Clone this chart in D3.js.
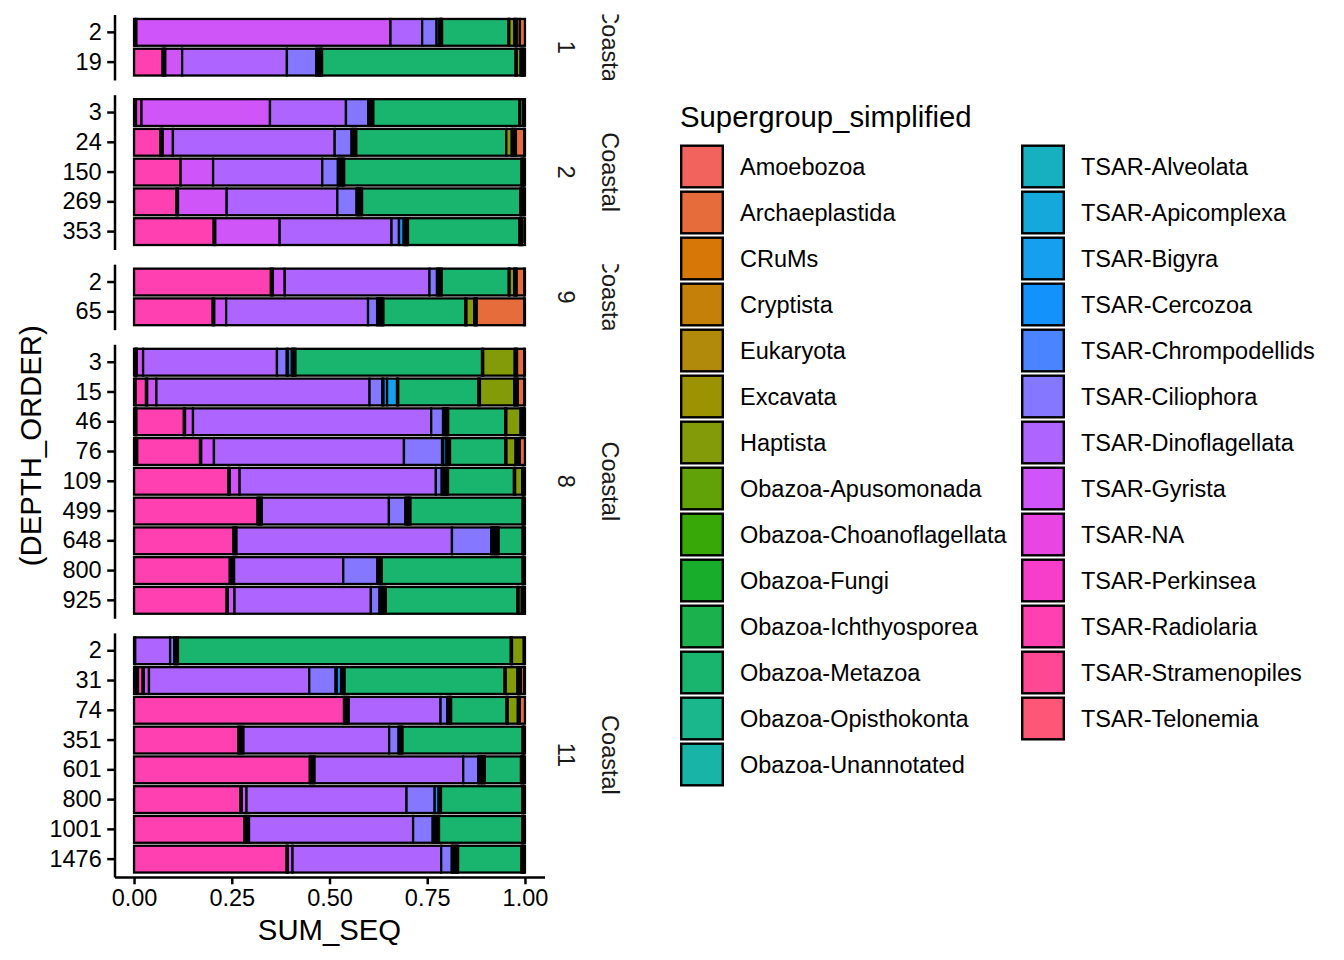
<!DOCTYPE html>
<html>
<head>
<meta charset="utf-8">
<script src="https://cdn.jsdelivr.net/npm/d3@7"></script>
<style>
  body { margin: 0; background: #fff; }
  svg { display: block; font-family: "Liberation Sans", Arial, Helvetica, sans-serif; }
</style>
</head>
<body>
<svg id="chart" width="1344" height="960"></svg>
<script>
// legend order (ggplot stacks the first level at the right end of each bar)
const categories = [
  "Amoebozoa", "Archaeplastida", "CRuMs", "Cryptista", "Eukaryota", "Excavata",
  "Haptista", "Obazoa-Apusomonada", "Obazoa-Choanoflagellata", "Obazoa-Fungi",
  "Obazoa-Ichthyosporea", "Obazoa-Metazoa", "Obazoa-Opisthokonta", "Obazoa-Unannotated",
  "TSAR-Alveolata", "TSAR-Apicomplexa", "TSAR-Bigyra", "TSAR-Cercozoa",
  "TSAR-Chrompodellids", "TSAR-Ciliophora", "TSAR-Dinoflagellata", "TSAR-Gyrista",
  "TSAR-NA", "TSAR-Perkinsea", "TSAR-Radiolaria", "TSAR-Stramenopiles", "TSAR-Telonemia",
];

const palette = [
  "#F2635D", "#E66C3B", "#D77708", "#C5800A", "#B1890B", "#9C9302",
  "#839B08", "#61A208", "#37A807", "#19AD2C", "#1BB14D", "#19B46E",
  "#1AB68C", "#19B4A8", "#17B0C1", "#15A8DA", "#169FEE", "#1392FC",
  "#4A84FF", "#8577FF", "#AE65FF", "#D055F8", "#E845E3", "#F63ECB",
  "#FE40B1", "#FF4894", "#FD5677",
];

const xTicks = [0, 0.25, 0.5, 0.75, 1];

// read sequence shares per sample (percent), one array per station
const station1 = [
  { depth: "2", "TSAR-Radiolaria": 0.3, "TSAR-NA": 0.3, "TSAR-Gyrista": 65.0, "TSAR-Dinoflagellata": 8.1,
    "TSAR-Ciliophora": 3.7, "TSAR-Bigyra": 0.7, "TSAR-Alveolata": 0.3, "Obazoa-Unannotated": 0.2,
    "Obazoa-Opisthokonta": 0.2, "Obazoa-Metazoa": 17.0, "Obazoa-Ichthyosporea": 0.2, "Haptista": 1.3,
    "Excavata": 0.3, "Eukaryota": 0.3, "Cryptista": 0.8, "Archaeplastida": 1.3 },
  { depth: "19", "TSAR-Radiolaria": 7.3, "TSAR-Perkinsea": 0.35, "TSAR-NA": 0.35, "TSAR-Gyrista": 4.3,
    "TSAR-Dinoflagellata": 26.8, "TSAR-Ciliophora": 7.5, "TSAR-Cercozoa": 0.5, "TSAR-Bigyra": 0.4,
    "TSAR-Alveolata": 0.3, "Obazoa-Opisthokonta": 0.3, "Obazoa-Metazoa": 49.5, "Obazoa-Ichthyosporea": 0.3,
    "Haptista": 1.0, "Eukaryota": 0.3, "Cryptista": 0.3, "Archaeplastida": 0.3, "Amoebozoa": 0.2 },
];

const station2 = [
  { depth: "3", "TSAR-Radiolaria": 0.3, "TSAR-Perkinsea": 0.2, "TSAR-NA": 1.4, "TSAR-Gyrista": 32.8,
    "TSAR-Dinoflagellata": 19.4, "TSAR-Ciliophora": 5.7, "TSAR-Cercozoa": 0.4, "TSAR-Alveolata": 0.4,
    "Obazoa-Opisthokonta": 0.5, "Obazoa-Metazoa": 37.3, "Obazoa-Ichthyosporea": 0.2, "Haptista": 0.8,
    "Eukaryota": 0.2, "Amoebozoa": 0.2 },
  { depth: "24", "TSAR-Radiolaria": 6.7, "TSAR-Perkinsea": 0.3, "TSAR-NA": 0.3, "TSAR-Gyrista": 2.6,
    "TSAR-Dinoflagellata": 41.2, "TSAR-Ciliophora": 4.3, "TSAR-Cercozoa": 0.4, "TSAR-Alveolata": 0.4,
    "Obazoa-Opisthokonta": 0.4, "Obazoa-Metazoa": 38.2, "Haptista": 1.4, "Excavata": 0.35,
    "Eukaryota": 0.35, "Cryptista": 0.35, "Archaeplastida": 2.1, "Amoebozoa": 0.2 },
  { depth: "150", "TSAR-Radiolaria": 11.9, "TSAR-Gyrista": 8.3, "TSAR-Dinoflagellata": 27.9,
    "TSAR-Ciliophora": 4.0, "TSAR-Chrompodellids": 0.3, "TSAR-Cercozoa": 0.4, "TSAR-Bigyra": 0.3,
    "TSAR-Alveolata": 0.3, "Obazoa-Opisthokonta": 0.3, "Obazoa-Metazoa": 45.3, "Obazoa-Ichthyosporea": 0.2,
    "Haptista": 0.3, "Archaeplastida": 0.2, "Amoebozoa": 0.2 },
  { depth: "269", "TSAR-Radiolaria": 10.8, "TSAR-Perkinsea": 0.4, "TSAR-Gyrista": 12.4,
    "TSAR-Dinoflagellata": 28.2, "TSAR-Ciliophora": 4.9, "TSAR-Cercozoa": 0.4, "TSAR-Bigyra": 0.3,
    "TSAR-Alveolata": 0.3, "Obazoa-Opisthokonta": 0.4, "Obazoa-Metazoa": 40.3, "Obazoa-Ichthyosporea": 0.2,
    "Haptista": 0.3, "Eukaryota": 0.5, "Amoebozoa": 0.2 },
  { depth: "353", "TSAR-Radiolaria": 20.3, "TSAR-Perkinsea": 0.4, "TSAR-Gyrista": 16.4,
    "TSAR-Dinoflagellata": 28.5, "TSAR-Ciliophora": 1.9, "TSAR-Cercozoa": 1.2, "TSAR-Bigyra": 0.3,
    "TSAR-Alveolata": 0.3, "Obazoa-Unannotated": 0.2, "Obazoa-Opisthokonta": 0.3, "Obazoa-Metazoa": 28.4,
    "Obazoa-Ichthyosporea": 0.2, "Haptista": 0.3, "Eukaryota": 0.3, "Archaeplastida": 0.6 },
];

const station9 = [
  { depth: "2", "TSAR-Radiolaria": 34.7, "TSAR-Perkinsea": 0.5, "TSAR-Gyrista": 3.0,
    "TSAR-Dinoflagellata": 36.7, "TSAR-Ciliophora": 1.9, "TSAR-Cercozoa": 0.4, "TSAR-Alveolata": 0.4,
    "Obazoa-Opisthokonta": 0.4, "Obazoa-Metazoa": 17.0, "Obazoa-Ichthyosporea": 0.2, "Haptista": 1.2,
    "Excavata": 0.3, "Eukaryota": 0.3, "Archaeplastida": 1.9, "Amoebozoa": 0.2 },
  { depth: "65", "TSAR-Radiolaria": 19.9, "TSAR-Perkinsea": 0.4, "TSAR-Gyrista": 3.0,
    "TSAR-Dinoflagellata": 35.9, "TSAR-Ciliophora": 2.3, "TSAR-Chrompodellids": 0.3, "TSAR-Cercozoa": 0.4,
    "TSAR-Bigyra": 0.3, "TSAR-Alveolata": 0.3, "Obazoa-Opisthokonta": 0.3, "Obazoa-Metazoa": 20.7,
    "Obazoa-Ichthyosporea": 0.3, "Haptista": 2.0, "Excavata": 0.3, "Eukaryota": 0.3,
    "Archaeplastida": 12.0, "Amoebozoa": 0.2 },
];

const station8 = [
  { depth: "3", "TSAR-Radiolaria": 0.3, "TSAR-Perkinsea": 0.2, "TSAR-NA": 0.2, "TSAR-Gyrista": 1.6,
    "TSAR-Dinoflagellata": 34.0, "TSAR-Ciliophora": 2.5, "TSAR-Chrompodellids": 0.3, "TSAR-Cercozoa": 1.0,
    "TSAR-Bigyra": 0.3, "TSAR-Alveolata": 0.3, "Obazoa-Opisthokonta": 0.3, "Obazoa-Metazoa": 47.4,
    "Obazoa-Ichthyosporea": 0.3, "Haptista": 8.0, "Excavata": 0.3, "Eukaryota": 0.3,
    "Archaeplastida": 1.8, "Amoebozoa": 0.2 },
  { depth: "15", "TSAR-Stramenopiles": 0.4, "TSAR-Radiolaria": 2.6, "TSAR-Perkinsea": 0.3,
    "TSAR-Gyrista": 2.3, "TSAR-Dinoflagellata": 53.5, "TSAR-Ciliophora": 3.2, "TSAR-Chrompodellids": 0.3,
    "TSAR-Cercozoa": 0.9, "TSAR-Bigyra": 2.5, "TSAR-Alveolata": 0.3,
    "Obazoa-Metazoa": 20.1, "Obazoa-Ichthyosporea": 0.4, "Haptista": 8.6, "Excavata": 0.3,
    "Eukaryota": 0.3, "Cryptista": 0.3, "Archaeplastida": 1.6, "Amoebozoa": 0.2 },
  { depth: "46", "TSAR-Telonemia": 0.3, "TSAR-Stramenopiles": 0.3, "TSAR-Radiolaria": 12.0,
    "TSAR-Perkinsea": 0.3, "TSAR-Gyrista": 2.0, "TSAR-Dinoflagellata": 60.2, "TSAR-Ciliophora": 3.0,
    "TSAR-Cercozoa": 0.4, "TSAR-Bigyra": 0.3, "TSAR-Alveolata": 0.3, "Obazoa-Opisthokonta": 0.3,
    "Obazoa-Metazoa": 14.4, "Obazoa-Ichthyosporea": 0.3, "Haptista": 3.6, "Excavata": 0.3,
    "Eukaryota": 0.3, "Archaeplastida": 0.3, "Amoebozoa": 0.2 },
  { depth: "76", "TSAR-Telonemia": 0.4, "TSAR-Stramenopiles": 0.4, "TSAR-Radiolaria": 15.8,
    "TSAR-Perkinsea": 0.3, "TSAR-Gyrista": 3.2, "TSAR-Dinoflagellata": 47.8, "TSAR-Ciliophora": 9.6,
    "TSAR-Chrompodellids": 0.3, "TSAR-Cercozoa": 0.8, "TSAR-Bigyra": 0.3, "TSAR-Alveolata": 0.3,
    "Obazoa-Opisthokonta": 0.3, "Obazoa-Metazoa": 13.9, "Obazoa-Ichthyosporea": 0.3, "Haptista": 2.3,
    "Excavata": 0.35, "Eukaryota": 0.35, "Cryptista": 0.35, "Archaeplastida": 1.3 },
  { depth: "109", "TSAR-Radiolaria": 24.0, "TSAR-Perkinsea": 0.4, "TSAR-Gyrista": 2.5,
    "TSAR-Dinoflagellata": 50.0, "TSAR-Ciliophora": 1.5, "TSAR-Chrompodellids": 0.3, "TSAR-Cercozoa": 0.4,
    "TSAR-Bigyra": 0.3, "TSAR-Alveolata": 0.3, "Obazoa-Opisthokonta": 0.3, "Obazoa-Metazoa": 16.8,
    "Obazoa-Ichthyosporea": 0.3, "Haptista": 1.8, "Excavata": 0.25, "Eukaryota": 0.25, "Amoebozoa": 0.2 },
  { depth: "499", "TSAR-Radiolaria": 31.5, "TSAR-Perkinsea": 0.4, "TSAR-NA": 0.3, "TSAR-Gyrista": 0.4,
    "TSAR-Dinoflagellata": 32.4, "TSAR-Ciliophora": 4.2, "TSAR-Cercozoa": 0.4, "TSAR-Bigyra": 0.3,
    "TSAR-Alveolata": 0.3, "Obazoa-Opisthokonta": 0.3, "Obazoa-Metazoa": 28.6,
    "Obazoa-Ichthyosporea": 0.2, "Haptista": 0.2, "Amoebozoa": 0.2 },
  { depth: "648", "TSAR-Radiolaria": 25.3, "TSAR-Perkinsea": 0.4, "TSAR-Gyrista": 0.4,
    "TSAR-Dinoflagellata": 54.9, "TSAR-Ciliophora": 10.0, "TSAR-Chrompodellids": 0.3, "TSAR-Cercozoa": 0.4,
    "TSAR-Bigyra": 0.3, "TSAR-Alveolata": 0.3, "Obazoa-Unannotated": 0.3, "Obazoa-Opisthokonta": 0.3,
    "Obazoa-Metazoa": 6.1, "Obazoa-Ichthyosporea": 0.2, "Haptista": 0.2, "Amoebozoa": 0.2 },
  { depth: "800", "TSAR-Radiolaria": 24.4, "TSAR-Perkinsea": 0.4, "TSAR-NA": 0.3, "TSAR-Gyrista": 0.4,
    "TSAR-Dinoflagellata": 27.8, "TSAR-Ciliophora": 8.7, "TSAR-Cercozoa": 0.4, "TSAR-Alveolata": 0.4,
    "Obazoa-Opisthokonta": 0.3, "Obazoa-Metazoa": 35.9, "Obazoa-Ichthyosporea": 0.2, "Haptista": 0.2,
    "Amoebozoa": 0.2 },
  { depth: "925", "TSAR-Radiolaria": 23.5, "TSAR-Perkinsea": 0.3, "TSAR-Gyrista": 1.7,
    "TSAR-Dinoflagellata": 34.6, "TSAR-Ciliophora": 2.2, "TSAR-Chrompodellids": 0.3, "TSAR-Cercozoa": 0.4,
    "TSAR-Bigyra": 0.3, "TSAR-Alveolata": 0.3, "Obazoa-Opisthokonta": 0.3, "Obazoa-Metazoa": 33.4,
    "Obazoa-Ichthyosporea": 0.3, "Haptista": 0.8, "Excavata": 0.3, "Eukaryota": 0.3, "Amoebozoa": 0.2 },
];

const station11 = [
  { depth: "2", "TSAR-Gyrista": 0.3, "TSAR-Dinoflagellata": 8.9, "TSAR-Ciliophora": 1.1,
    "TSAR-Cercozoa": 0.3, "TSAR-Alveolata": 0.3, "Obazoa-Opisthokonta": 0.3, "Obazoa-Metazoa": 84.9,
    "Obazoa-Ichthyosporea": 0.3, "Haptista": 3.0, "Amoebozoa": 0.3 },
  { depth: "31", "TSAR-Telonemia": 0.5, "TSAR-Stramenopiles": 0.5, "TSAR-Radiolaria": 1.2,
    "TSAR-Perkinsea": 0.3, "TSAR-Gyrista": 1.3, "TSAR-Dinoflagellata": 40.8,
    "TSAR-Ciliophora": 6.7, "TSAR-Chrompodellids": 0.3, "TSAR-Cercozoa": 1.1, "TSAR-Bigyra": 0.3,
    "TSAR-Alveolata": 0.3, "Obazoa-Opisthokonta": 0.3, "Obazoa-Metazoa": 40.7, "Obazoa-Ichthyosporea": 0.3,
    "Haptista": 3.0, "Excavata": 0.3, "Eukaryota": 0.3, "Cryptista": 0.3, "Archaeplastida": 0.8,
    "Amoebozoa": 0.2 },
  { depth: "74", "TSAR-Radiolaria": 53.5, "TSAR-Perkinsea": 0.4, "TSAR-NA": 0.4, "TSAR-Gyrista": 0.4,
    "TSAR-Dinoflagellata": 23.4, "TSAR-Ciliophora": 1.7, "TSAR-Cercozoa": 0.4, "TSAR-Alveolata": 0.3,
    "Obazoa-Opisthokonta": 0.3, "Obazoa-Metazoa": 14.1, "Obazoa-Ichthyosporea": 0.3, "Haptista": 2.6,
    "Excavata": 0.25, "Eukaryota": 0.25, "Archaeplastida": 1.3 },
  { depth: "351", "TSAR-Radiolaria": 26.5, "TSAR-Perkinsea": 0.4, "TSAR-NA": 0.4, "TSAR-Gyrista": 0.5,
    "TSAR-Dinoflagellata": 37.0, "TSAR-Ciliophora": 2.4, "TSAR-Cercozoa": 0.4, "TSAR-Alveolata": 0.3,
    "Obazoa-Opisthokonta": 0.3, "Obazoa-Metazoa": 30.5, "Obazoa-Ichthyosporea": 0.2, "Haptista": 0.2,
    "Amoebozoa": 0.2 },
  { depth: "601", "TSAR-Radiolaria": 44.7, "TSAR-Perkinsea": 0.4, "TSAR-NA": 0.4, "TSAR-Gyrista": 0.4,
    "TSAR-Dinoflagellata": 37.8, "TSAR-Ciliophora": 3.8, "TSAR-Chrompodellids": 0.3, "TSAR-Cercozoa": 0.4,
    "TSAR-Bigyra": 0.3, "TSAR-Alveolata": 0.3, "Obazoa-Opisthokonta": 0.4, "Obazoa-Metazoa": 9.2,
    "Obazoa-Ichthyosporea": 0.3, "Haptista": 0.3, "Eukaryota": 0.2, "Amoebozoa": 0.2 },
  { depth: "800", "TSAR-Radiolaria": 26.8, "TSAR-Perkinsea": 0.4, "TSAR-Gyrista": 1.2,
    "TSAR-Dinoflagellata": 40.4, "TSAR-Ciliophora": 7.1, "TSAR-Cercozoa": 1.0, "TSAR-Alveolata": 0.3,
    "Obazoa-Opisthokonta": 0.3, "Obazoa-Metazoa": 20.5, "Obazoa-Ichthyosporea": 0.3, "Haptista": 0.2,
    "Amoebozoa": 0.2 },
  { depth: "1001", "TSAR-Radiolaria": 28.1, "TSAR-Perkinsea": 0.4, "TSAR-NA": 0.4, "TSAR-Gyrista": 0.4,
    "TSAR-Dinoflagellata": 41.8, "TSAR-Ciliophora": 5.0, "TSAR-Chrompodellids": 0.3, "TSAR-Cercozoa": 0.4,
    "TSAR-Bigyra": 0.3, "TSAR-Alveolata": 0.3, "Obazoa-Opisthokonta": 0.3, "Obazoa-Metazoa": 21.2,
    "Obazoa-Ichthyosporea": 0.3, "Haptista": 0.2, "Amoebozoa": 0.2 },
  { depth: "1476", "TSAR-Radiolaria": 38.8, "TSAR-Perkinsea": 0.3, "TSAR-Gyrista": 1.2,
    "TSAR-Dinoflagellata": 37.8, "TSAR-Ciliophora": 2.7, "TSAR-Chrompodellids": 0.3, "TSAR-Cercozoa": 0.4,
    "TSAR-Bigyra": 0.3, "TSAR-Alveolata": 0.3, "Obazoa-Opisthokonta": 0.3, "Obazoa-Metazoa": 16.1,
    "Obazoa-Ichthyosporea": 0.3, "Haptista": 0.2, "Eukaryota": 0.2, "Amoebozoa": 0.2 },
];

const panels = [
  { station: "1", type: "Coastal", rows: station1 },
  { station: "2", type: "Coastal", rows: station2 },
  { station: "9", type: "Coastal", rows: station9 },
  { station: "8", type: "Coastal", rows: station8 },
  { station: "11", type: "Coastal", rows: station11 },
];

const svg = d3.select("#chart");

const plotTop = 14.5;
const plotBottom = 877;
const panelGap = 14.7;
const lineW = 2.5;
const fontSm = 23.5;
const fontLg = 29.3;

// discrete scale expansion of 0.6 on both sides -> n + 0.2 steps per panel
const unit = (plotBottom - plotTop - panelGap * (panels.length - 1)) /
  d3.sum(panels, (p) => p.rows.length + 0.2);

const x = d3.scaleLinear().domain([-0.05, 1.05]).range([114.5, 544.5]);
const color = d3.scaleOrdinal(categories, palette);

const stack = d3
  .stack()
  .keys(categories.slice().reverse())
  .value((d, key) => d[key] || 0)
  .offset(d3.stackOffsetExpand);

let panelTop = plotTop;
panels.forEach((p, i) => {
  const h = (p.rows.length + 0.2) * unit;
  const y = d3
    .scaleBand()
    .domain(p.rows.map((d) => d.depth))
    .range([panelTop, panelTop + h])
    .paddingInner(0.1)
    .paddingOuter(0.15);

  const g = svg.append("g");

  // Bars (zero entries are absent samples, not drawn)
  g.selectAll("g.series")
    .data(stack(p.rows))
    .join("g")
    .attr("class", "series")
    .attr("fill", (s) => color(s.key))
    .selectAll("rect")
    .data((s) => s.filter((pt) => pt.data[s.key] > 0))
    .join("rect")
    .attr("x", (pt) => x(pt[0]))
    .attr("y", (pt) => y(pt.data.depth))
    .attr("width", (pt) => x(pt[1]) - x(pt[0]))
    .attr("height", y.bandwidth())
    .attr("stroke", "#000")
    .attr("stroke-width", 2.3);

  // Y axis
  const ya = g
    .append("g")
    .attr("transform", `translate(${x.range()[0]},0)`)
    .call(d3.axisLeft(y).tickSize(7.3).tickSizeOuter(0).tickPadding(5.5));
  ya.select(".domain").attr("stroke-width", lineW);
  ya.selectAll(".tick line").attr("stroke-width", lineW);
  ya.selectAll("text").attr("font-size", fontSm).attr("fill", "#000").attr("font-family", null);

  // Strips (two facet variables, clipped to the panel height)
  const clipId = `strip-clip-${i}`;
  svg.append("clipPath")
    .attr("id", clipId)
    .append("rect")
    .attr("x", 545)
    .attr("y", panelTop)
    .attr("width", 100)
    .attr("height", h);

  const strip = svg.append("g").attr("clip-path", `url(#${clipId})`);
  [[p.station, 566], [p.type, 610]].forEach(([label, cx]) => {
    strip.append("text")
      .attr("transform", `translate(${cx},${panelTop + h / 2}) rotate(90)`)
      .attr("text-anchor", "middle")
      .attr("dy", "0.36em")
      .attr("font-size", fontSm)
      .attr("fill", "#1a1a1a")
      .text(label);
  });

  panelTop += h + panelGap;
});

// X axis (bottom panel only)
const xa = svg
  .append("g")
  .attr("transform", `translate(0,${plotBottom})`)
  .call(
    d3.axisBottom(x)
      .tickValues(xTicks)
      .tickFormat(d3.format(".2f"))
      .tickSize(7.3)
      .tickSizeOuter(0)
      .tickPadding(5.5),
  );
xa.select(".domain").attr("stroke-width", lineW);
xa.selectAll(".tick line").attr("stroke-width", lineW);
xa.selectAll("text").attr("font-size", fontSm).attr("fill", "#000").attr("font-family", null);

// Axis titles
svg.append("text")
  .attr("x", d3.mean(x.range()))
  .attr("y", 940)
  .attr("text-anchor", "middle")
  .attr("font-size", fontLg)
  .text("SUM_SEQ");

svg.append("text")
  .attr("transform", `translate(30,${(plotTop + plotBottom) / 2}) rotate(-90)`)
  .attr("text-anchor", "middle")
  .attr("dy", "0.36em")
  .attr("font-size", fontLg)
  .text("(DEPTH_ORDER)");

// Legend, filled by column (14 rows)
const legend = svg.append("g");
legend.append("text")
  .attr("x", 680)
  .attr("y", 127)
  .attr("font-size", fontLg)
  .text("Supergroup_simplified");

const nrow = Math.ceil(categories.length / 2);
const item = legend
  .selectAll("g.item")
  .data(categories)
  .join("g")
  .attr("class", "item")
  .attr("transform", (d, i) =>
    `translate(${i < nrow ? 680 : 1021},${144.5 + (i % nrow) * 46})`);

item.append("rect")
  .attr("x", 1.2)
  .attr("y", 1.2)
  .attr("width", 41.6)
  .attr("height", 41.6)
  .attr("fill", (d) => color(d))
  .attr("stroke", "#000")
  .attr("stroke-width", 2.4);

item.append("text")
  .attr("x", 60)
  .attr("y", 22)
  .attr("dy", "0.36em")
  .attr("font-size", fontSm)
  .text((d) => d);
</script>
</body>
</html>
